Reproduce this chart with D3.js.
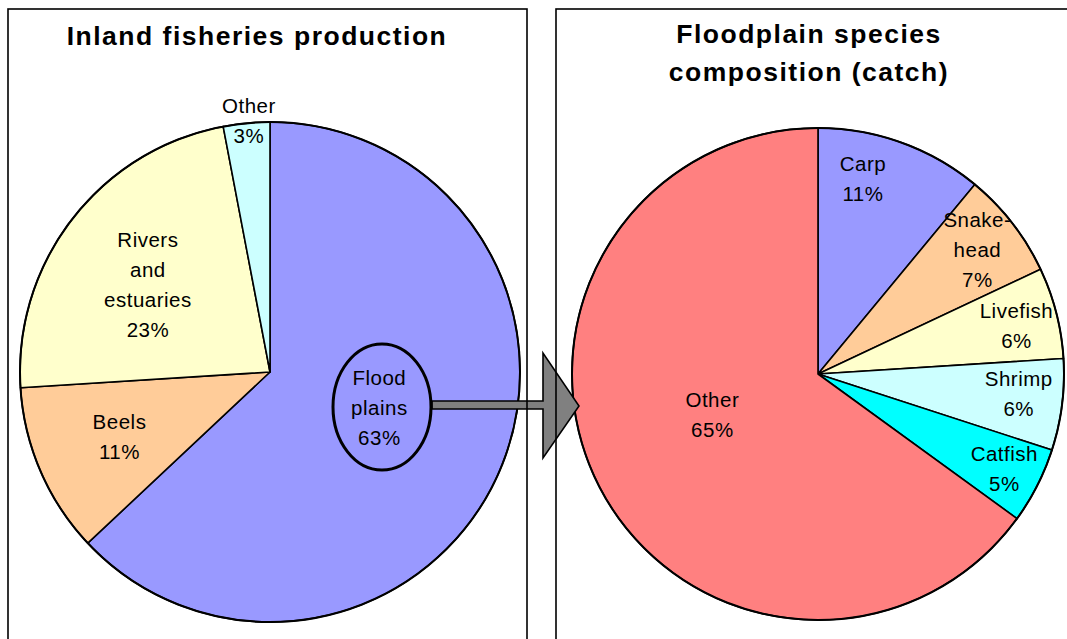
<!DOCTYPE html>
<html>
<head>
<meta charset="utf-8">
<script src="https://cdn.jsdelivr.net/npm/d3@7"></script>
<style>
  html, body { margin: 0; padding: 0; background: #fff; }
  svg { display: block; }
  text { font-family: "Liberation Sans", Arial, sans-serif; fill: #000; }
</style>
</head>
<body>
<svg id="chart" width="1067" height="639"></svg>
<script>
// Inland fisheries production by habitat (%)
const habitatNames = [["Flood", "plains"], ["Beels"], ["Rivers", "and", "estuaries"], ["Other"]];
const habitatShares = [63, 11, 23, 3];
const habitatColors = ["#9999ff", "#ffcc99", "#ffffcc", "#ccffff"];

// Floodplain catch by species group (%)
const speciesNames = [["Carp"], ["Snake-", "head"], ["Livefish"], ["Shrimp"], ["Catfish"], ["Other"]];
const speciesShares = [11, 7, 6, 6, 5, 65];
const speciesColors = ["#9999ff", "#ffcc99", "#ffffcc", "#ccffff", "#00ffff", "#ff8080"];

const svg = d3.select("#chart");
const FONT = 20.5, LINE = 30;

function drawPie(cfg) {
  const pie = d3.pie().sort(null).value(d => d)(cfg.values);
  const arc = d3.arc().innerRadius(0).outerRadius(cfg.r);
  const g = svg.append("g").attr("transform", `translate(${cfg.cx},${cfg.cy})`);

  g.selectAll("path.slice").data(pie).join("path")
    .attr("class", "slice")
    .attr("d", arc)
    .attr("fill", (d, i) => cfg.colors[i])
    .attr("stroke", "#000")
    .attr("stroke-width", 1.6)
    .attr("stroke-linejoin", "round");

  g.append("circle").attr("r", cfg.r).attr("fill", "none")
    .attr("stroke", "#000").attr("stroke-width", 2);

  // labels: name lines followed by the percentage
  pie.forEach((d, i) => {
    const [rf, dAng] = cfg.labelPlace[i];
    const a = (d.startAngle + d.endAngle) / 2 + dAng * Math.PI / 180;
    const lx = Math.sin(a) * cfg.r * rf;
    const ly = -Math.cos(a) * cfg.r * rf;
    const lines = cfg.names[i].concat([d.data + "%"]);
    const t = g.append("text")
      .attr("text-anchor", "middle")
      .attr("font-size", FONT)
      .attr("letter-spacing", 0.5);
    const first = ly - (lines.length - 1) * LINE / 2 + 7;
    lines.forEach((s, k) => {
      t.append("tspan").attr("x", lx).attr("y", first + k * LINE).text(s);
    });
  });
  return g;
}

// Panel frames are added last so they sit on top of the arrow
drawPie({
  cx: 270, cy: 372, r: 250,
  values: habitatShares, colors: habitatColors, names: habitatNames,
  labelPlace: [[0.46, -5.4], [0.656, 0], [0.6, -2.3], [1.008, 0.6]]
});

drawPie({
  cx: 818, cy: 374, r: 246,
  values: speciesShares, colors: speciesColors, names: speciesNames,
  labelPlace: [[0.813, -6.8], [0.82, 0], [0.83, 0.8], [0.82, -1.5], [0.85, 0], [0.46, 6]]
});

// Arrow from the floodplain slice to the species breakdown
const arrowPts = [[432, 401], [543, 401], [543, 353], [579, 406], [543, 458], [543, 409], [432, 409]];
svg.append("path")
  .attr("d", d3.line()(arrowPts) + "Z")
  .attr("fill", "#808080")
  .attr("stroke", "#000")
  .attr("stroke-width", 1.6)
  .attr("stroke-linejoin", "miter");

svg.append("ellipse")
  .attr("cx", 382).attr("cy", 407).attr("rx", 49).attr("ry", 63)
  .attr("fill", "none").attr("stroke", "#000").attr("stroke-width", 3);

// Panel frames
svg.append("rect").attr("x", 8).attr("y", 9).attr("width", 519).attr("height", 660)
  .attr("fill", "none").attr("stroke", "#000").attr("stroke-width", 1.6);
svg.append("rect").attr("x", 556).attr("y", 9).attr("width", 530).attr("height", 660)
  .attr("fill", "none").attr("stroke", "#000").attr("stroke-width", 1.6);

// Titles
const titleStyle = t => t.attr("text-anchor", "middle").attr("font-weight", "bold")
  .attr("font-size", 26.5).attr("letter-spacing", 1.5);
svg.append("text").attr("x", 257).attr("y", 45).text("Inland fisheries production").call(titleStyle);
svg.append("text").attr("x", 809).attr("y", 43).text("Floodplain species").call(titleStyle);
svg.append("text").attr("x", 809).attr("y", 81).text("composition (catch)").call(titleStyle);
</script>
</body>
</html>
